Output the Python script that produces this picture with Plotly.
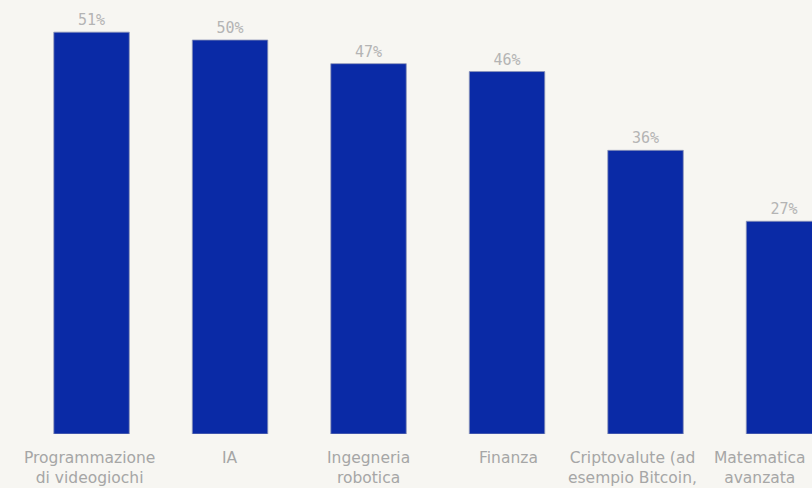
import plotly.graph_objects as go

categories = [
    "Programmazione<br>di videogiochi",
    "IA",
    "Ingegneria<br>robotica",
    "Finanza",
    "Criptovalute (ad<br>esempio Bitcoin,<br>Ethereum)",
    "Matematica<br>avanzata",
]
values = [51, 50, 47, 46, 36, 27]
value_labels = ["51%", "50%", "47%", "46%", "36%", "27%"]

# horizontal nudges of the category labels (pixels), as in the source layout
label_shift = [-2, 0, 0, 1, -13, -24]

bg = "#F7F6F2"
xs = list(range(len(categories)))
fig = go.Figure(
    go.Bar(
        x=xs,
        y=values,
        text=value_labels,
        textposition="outside",
        textfont=dict(family="DejaVu Sans Mono", size=15, color="#B4B4B4"),
        cliponaxis=False,
        width=0.545,
        marker=dict(color="#0A2AA6", line=dict(color="#8E96B8", width=0.8)),
        hoverinfo="skip",
    )
)
for x, lab, sh in zip(xs, categories, label_shift):
    fig.add_annotation(
        x=x, y=0, xref="x", yref="y",
        text=lab, showarrow=False,
        yanchor="top", xanchor="center", align="center",
        yshift=-13, xshift=sh,
        font=dict(family="DejaVu Sans", size=15.5, color="#A6A6A6"),
    )
fig.update_layout(
    width=812,
    height=488,
    paper_bgcolor=bg,
    plot_bgcolor=bg,
    margin=dict(l=0, r=0, t=0, b=54),
    showlegend=False,
    bargap=0.45,
    uniformtext=dict(minsize=15, mode="show"),
    xaxis=dict(
        range=[-0.661, 5.202],
        showticklabels=False,
        showgrid=False,
        zeroline=False,
        showline=False,
        ticks="",
        automargin=False,
    ),
    yaxis=dict(
        range=[0, 55.08],
        visible=False,
        showgrid=False,
        zeroline=False,
    ),
)
fig.write_html(
    "out.html",
    config={"displayModeBar": False},
    post_script="document.body.style.margin='0';document.body.style.background='%s';" % bg,
)
